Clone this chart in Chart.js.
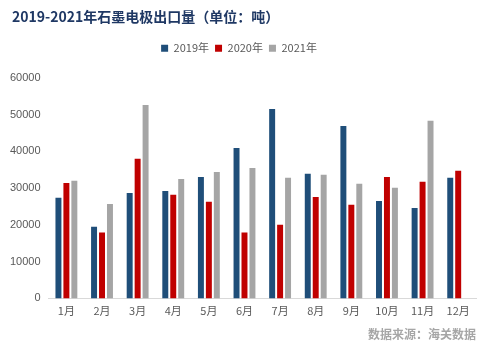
<!DOCTYPE html>
<html lang="zh-CN">

<head>
    <meta charset="UTF-8">
    <title>石墨电极出口量</title>
    <style>
        html, body { margin: 0; padding: 0; background: #fff; }
    </style>
</head>

<body>
    <canvas id="grafico" width="490" height="348"></canvas>
</body>

</html>
<script src="https://cdn.jsdelivr.net/npm/chart.js"></script>
<script>

    // meses e exportação mensal (toneladas)
    var meses = ['1月', '2月', '3月', '4月', '5月', '6月', '7月', '8月', '9月', '10月', '11月', '12月'];
    var anos = ['2019年', '2020年', '2021年'];
    var dados2019 = [27400, 19500, 28700, 29200, 33000, 40900, 51500, 33900, 46900, 26500, 24600, 32800];
    var dados2020 = [31400, 17900, 38000, 28200, 26300, 17900, 20000, 27600, 25500, 33000, 31700, 34700];
    var dados2021 = [32000, 25700, 52600, 32500, 34400, 35500, 32800, 33600, 31200, 30100, 48300, null];
    var ticksY = [0, 10000, 20000, 30000, 40000, 50000, 60000];
    var cores = ['#1F4E79', '#C00000', '#A5A5A5'];

    // espaço extra entre a legenda e o gráfico, e título um pouco para a direita
    const ajustes = {
        id: 'ajustes',
        beforeInit: function (chart) {
            const fitOriginal = chart.legend.fit;
            chart.legend.fit = function () {
                fitOriginal.bind(chart.legend)();
                this.height += 14;
            }
        },
        afterLayout: function (chart) {
            if (chart.titleBlock) chart.titleBlock.left += 10;
        }
    };

    const ctx = document.getElementById('grafico');

    new Chart(ctx, {
        type: 'bar',
        data: {
            labels: meses,
            datasets: [dados2019, dados2020, dados2021].map(function (d, i) {
                return {
                    label: anos[i],
                    data: d,
                    backgroundColor: cores[i],
                    barPercentage: 0.75,
                    categoryPercentage: 0.67
                }
            })
        },
        plugins: [ajustes],
        options: {
            responsive: false,
            animation: false,
            devicePixelRatio: 1,
            layout: { padding: { left: 2, right: 14, top: 0, bottom: 4 } },
            plugins: {
                title: {
                    display: true,
                    text: '2019-2021年石墨电极出口量（单位：吨）',
                    align: 'start',
                    color: '#1F3864',
                    font: { family: 'Noto Sans CJK SC', size: 14, weight: 'bold' },
                    padding: { top: 8, bottom: 12 }
                },
                legend: {
                    display: true,
                    labels: {
                        boxWidth: 7,
                        boxHeight: 7,
                        padding: 6,
                        color: '#595959',
                        font: { family: 'Noto Sans CJK SC', size: 11 }
                    }
                },
                subtitle: {
                    display: true,
                    position: 'bottom',
                    align: 'end',
                    text: '数据来源：海关数据',
                    color: '#A6A6A6',
                    font: { family: 'Noto Sans CJK SC', size: 12, weight: 'bold' },
                    padding: { top: 4, bottom: 2 }
                },
                tooltip: { enabled: false }
            },
            scales: {
                x: {
                    grid: { display: false, drawTicks: false },
                    border: { display: true, color: '#D9D9D9', width: 1 },
                    ticks: {
                        color: '#595959',
                        padding: 6,
                        autoSkip: false,
                        maxRotation: 0,
                        font: { family: 'Noto Sans CJK SC', size: 11 }
                    }
                },
                y: {
                    min: 0,
                    max: 60000,
                    afterBuildTicks: function (eixo) {
                        eixo.ticks = ticksY.map(function (v) { return { value: v } });
                    },
                    grid: { display: false, drawTicks: false },
                    border: { display: false },
                    ticks: {
                        color: '#595959',
                        padding: 8,
                        callback: function (v) { return String(v); },
                        font: { family: 'Liberation Sans', size: 11 }
                    }
                }
            }
        }
    });
</script>
